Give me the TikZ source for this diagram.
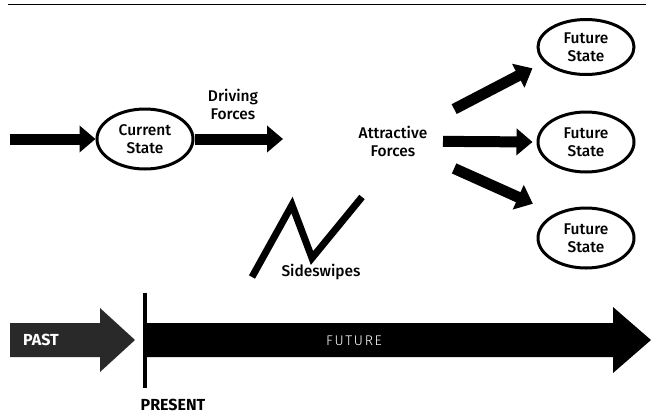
\documentclass[tikz,border=0pt]{standalone}
\usepackage{fontspec}
\setmainfont{Fira Sans}
\newfontfamily\labelfont{Fira Sans Medium}
\newfontfamily\spacedfont[LetterSpace=12]{Fira Sans Light}
\usetikzlibrary{arrows.meta,shapes.geometric}
\definecolor{pastgray}{gray}{0.16}
\begin{document}
\begin{tikzpicture}[x=1pt,y=-1pt,
  lbl/.style={font=\fontsize{15.5}{18}\selectfont\labelfont, align=center, inner sep=0pt},
  state/.style={lbl, draw, line width=3pt, ellipse, minimum width=96pt,
                minimum height=60pt, inner sep=0pt},
  force/.style={line width=11pt, -{Triangle[length=16pt,width=26pt]}},
  timelbl/.style={font=\fontsize{16}{18}\selectfont\bfseries, inner sep=0pt},
]
\useasboundingbox (0,0) rectangle (653,416);

% rule across the top
\draw[line width=1.5pt] (8,4.5) -- (646,4.5);

% current state and the driving forces
\coordinate (in) at (10,139);
\coordinate (df) at (283,139);
\node[state] (cs) at (145,139) {Current\\State};
\draw[force] (in) -- (cs);
\draw[force] (cs) -- (df);
\node[lbl] (dflbl) at (233,104) {Driving\\Forces};

% attractive forces towards the possible future states
\node[lbl] (af) at (393,141) {Attractive\\Forces};
\node[state, minimum height=55pt] (fs1) at (586,47) {Future\\State};
\node[state] (fs2) at (586,142) {Future\\State};
\node[state] (fs3) at (586,238) {Future\\State};
\draw[force, shorten <=69pt, shorten >=13pt] (af.center) -- (fs1.200);
\draw[force, shorten <=50pt, shorten >=4pt] (af.center) -- (fs2.west);
\draw[force, shorten <=67pt, shorten >=24pt] (af.center) -- (fs3.142.5);

% sideswipes zigzag
\draw[line width=7pt, miter limit=10] (252,277) -- (292,205) -- (312,258) -- (362,197);
\node[lbl] (sw) at (321,272) {Sideswipes};

% time line: past, present, future
\fill[pastgray] (10,323) -- (100,323) -- (100,308) -- (135,340) -- (100,372)
  -- (100,357) -- (10,357) -- cycle;
\node[timelbl, text=white] (past) at (41,340) {PAST};
\draw[line width=4pt] (144.5,293) -- (144.5,388);
\fill (147,323) -- (613,323) -- (613,307) -- (651,340) -- (613,373)
  -- (613,357) -- (147,357) -- cycle;
\node[font=\fontsize{14}{16}\selectfont\spacedfont, text=white, inner sep=0pt] (fut) at (354,341) {FUTURE};
\node[timelbl] (pres) at (173,405) {PRESENT};
\end{tikzpicture}
\end{document}
